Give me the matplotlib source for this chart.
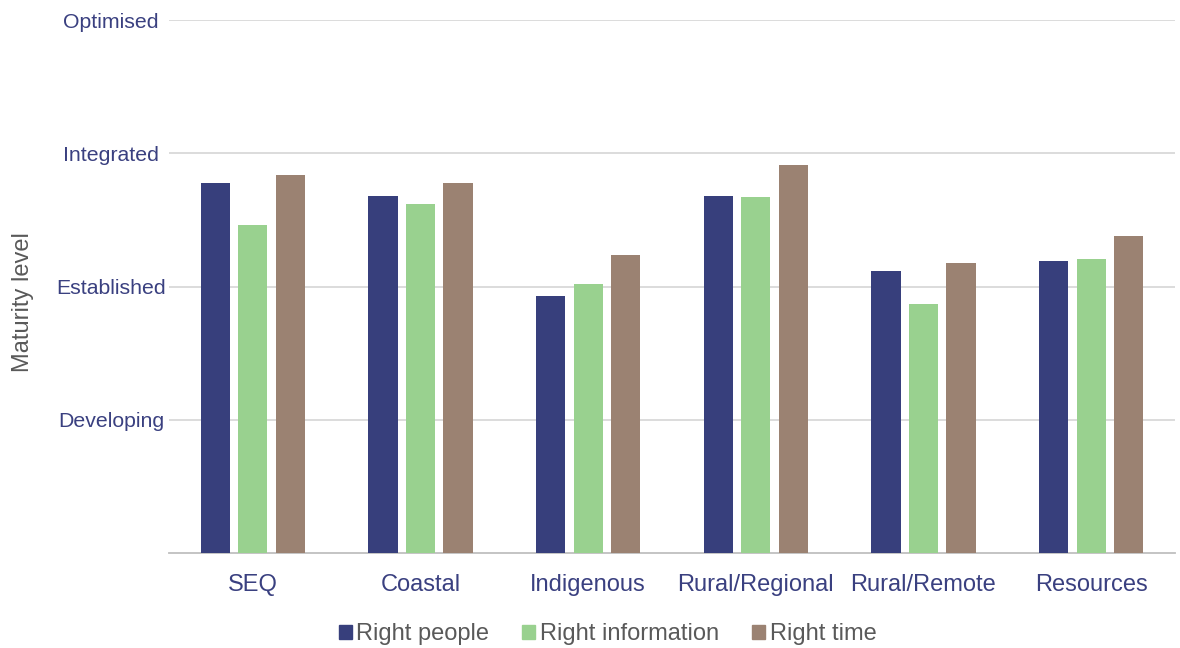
import numpy as np
import matplotlib
matplotlib.use("Agg")
import matplotlib.pyplot as plt
from matplotlib.patches import Patch

plt.rcParams["font.family"] = ["Liberation Sans", "DejaVu Sans"]

# maturity scale: 0 = baseline, 1 = Developing, 2 = Established, 3 = Integrated, 4 = Optimised
REGIONS = ["SEQ", "Coastal", "Indigenous", "Rural/Regional", "Rural/Remote", "Resources"]
RIGHT_PEOPLE = [2.78, 2.68, 1.93, 2.68, 2.12, 2.19]
RIGHT_INFO = [2.46, 2.62, 2.02, 2.67, 1.87, 2.21]
RIGHT_TIME = [2.84, 2.78, 2.24, 2.91, 2.18, 2.38]
LEVELS = ["Developing", "Established", "Integrated", "Optimised"]

SERIES = [
    ("Right people", RIGHT_PEOPLE, "#373f7c"),
    ("Right information", RIGHT_INFO, "#99d18f"),
    ("Right time", RIGHT_TIME, "#9b8272"),
]
NAVY = "#3a4080"
GREY = "#595959"

W, H = 1180, 648
fig = plt.figure(figsize=(W / 100, H / 100), dpi=100)
left, right, top, bottom = 169, 1175, 20, 553
ax = fig.add_axes([left / W, 1 - bottom / H, (right - left) / W, (bottom - top) / H])

x = np.arange(len(REGIONS))
w = 0.174
step = 0.224
for i, (name, vals, col) in enumerate(SERIES):
    ax.bar(x + (i - 1) * step, vals, width=w, color=col, zorder=3)

ax.set_xlim(-0.5, len(REGIONS) - 0.5)
ax.set_ylim(0, 4)
ax.set_yticks([1, 2, 3, 4])
ax.set_yticklabels(LEVELS, ha="center")
ax.set_xticks(x)
ax.set_xticklabels(REGIONS)
# y labels are centred around x ~ 111 px
ax.tick_params(axis="y", length=0, labelsize=15.3, labelcolor=NAVY, pad=(left - 111) * 0.72)
ax.tick_params(axis="x", length=0, labelsize=17, labelcolor=NAVY, pad=15)
ax.grid(axis="y", color="#d9d9d9", lw=1.3, zorder=0)
for s in ["top", "right", "left"]:
    ax.spines[s].set_visible(False)
ax.spines["bottom"].set_color("#bfbfbf")
ax.spines["bottom"].set_linewidth(1.3)

ax.set_ylabel("Maturity level", fontsize=17, color=GREY)
ax.yaxis.set_label_coords((34 - left) / (right - left), (bottom - 302) / (bottom - top))

handles = [Patch(color=c, label=n) for n, _, c in SERIES]
fig.legend(handles=handles, loc="center", bbox_to_anchor=(0.515, 1 - 634 / H),
           ncol=3, frameon=False, fontsize=17, labelcolor=GREY,
           handlelength=0.55, handleheight=0.55, handletextpad=0.2, columnspacing=1.4)

fig.savefig("out.png", dpi=100)
